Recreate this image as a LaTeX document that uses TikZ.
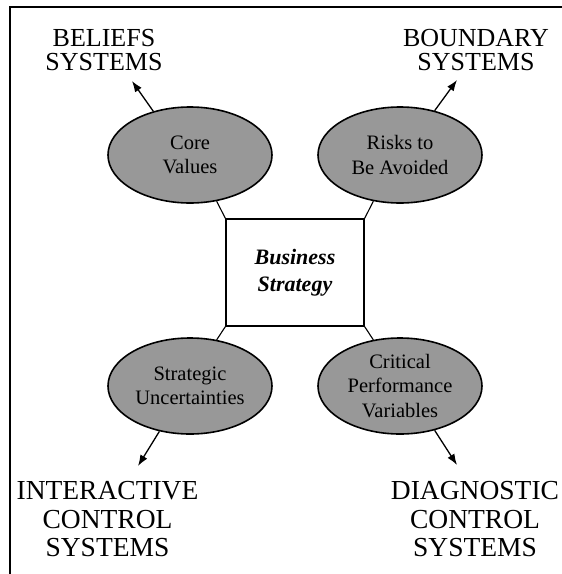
\documentclass[tikz,border=0pt]{standalone}
\usepackage{fontspec}
\setmainfont{Liberation Serif}
\usetikzlibrary{shapes.geometric,arrows.meta}
\definecolor{ovalgray}{RGB}{152,152,152}
\tikzset{
  oval/.style={ellipse,draw=black,line width=1.6pt,fill=ovalgray,
    minimum width=164pt,minimum height=96pt,inner sep=0pt,align=center,
    font=\fontsize{20.5}{24.5}\selectfont},
  stratbox/.style={rectangle,draw=black,line width=1.3pt,fill=white,
    minimum width=138pt,minimum height=107pt,inner sep=0pt,align=center,
    font=\fontsize{22}{27}\selectfont\bfseries\itshape},
  toplabel/.style={align=center,inner sep=0pt,font=\fontsize{26}{24}\selectfont},
  botlabel/.style={align=center,inner sep=0pt,font=\fontsize{27.5}{28.5}\selectfont},
  link/.style={draw=black,line width=1.1pt},
  outarrow/.style={draw=black,line width=1.3pt,-{Latex[length=11pt,width=8pt]}},
  frameline/.style={draw=black,line width=2pt}
}
\begin{document}
\begin{tikzpicture}[x=1pt,y=-1pt]
\useasboundingbox (0,0) rectangle (562,574);
\fill[white] (0,0) rectangle (562,574);
% frame (left and top edges)
\coordinate (fbl) at (10,574);
\coordinate (ftl) at (10,7);
\coordinate (ftr) at (562,7);
\draw[frameline] (fbl) -- (ftl) -- (ftr);

% centre box
\node[stratbox] (bs) at (295,272.5) {Business\\Strategy};

% ovals
\node[oval] (cv) at (190,155) {Core\\Values};
\node[oval] (ra) at (400,155) {Risks to\\Be Avoided};
\node[oval] (su) at (190,386) {Strategic\\Uncertainties};
\node[oval] (cp) at (400,386) {Critical\\Performance\\Variables};

% links box -> ovals
\draw[link] (bs.north west) -- (cv.-60);
\draw[link] (bs.north east) -- (ra.-120);
\draw[link] (bs.south west) -- (su.60);
\draw[link] (bs.south east) -- (cp.120);

% labels
\node[toplabel] (bel) at (104,50) {BELIEFS\\SYSTEMS};
\node[toplabel] (bnd) at (476,50) {BOUNDARY\\SYSTEMS};
\node[botlabel] (ics) at (107.5,519.5) {INTERACTIVE\\CONTROL\\SYSTEMS};
\node[botlabel] (dcs) at (475,519.5) {DIAGNOSTIC\\CONTROL\\SYSTEMS};

% arrow tips
\coordinate (tbel) at (132,81);
\coordinate (tbnd) at (457,80);
\coordinate (tics) at (138,466);
\coordinate (tdcs) at (457,465);

\draw[outarrow] (cv.130) -- (tbel);
\draw[outarrow] (ra.52) -- (tbnd);
\draw[outarrow] (su.-124) -- (tics);
\draw[outarrow] (cp.-52) -- (tdcs);
\end{tikzpicture}
\end{document}
